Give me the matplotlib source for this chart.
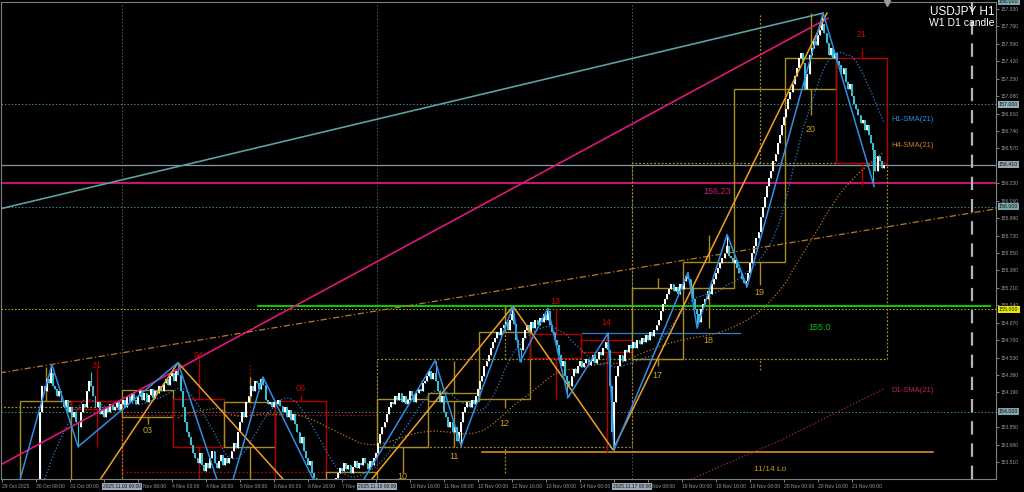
import matplotlib
matplotlib.use("Agg")
import matplotlib.pyplot as plt
import numpy as np
import pandas as pd
from matplotlib.patches import Rectangle

plt.rcParams["font.family"] = ["Liberation Sans", "DejaVu Sans"]

# ---- H1 closes, bar 0 = 29 Oct 16:00 ----
closes = [
    153.15, 153.12, 153.18, 153.10, 153.14, 153.20, 153.16, 153.22, 153.18, 153.25,
    153.21, 153.27, 153.24, 153.30, 153.26, 153.28, 153.22, 153.30,
    154.00, 154.25, 154.20, 154.32, 154.28, 154.38, 154.25,
    154.22, 154.15, 154.20, 154.10, 154.05, 154.12, 154.00, 154.05, 153.95, 154.00, 153.90, 153.85,
    154.00, 154.08, 154.05, 154.20, 154.30, 154.25,
    154.15, 154.05, 154.10, 153.98, 154.02, 153.95, 154.05, 154.00, 154.08, 154.02,
    154.05, 154.10, 154.02, 154.08, 154.12, 154.05, 154.15, 154.10, 154.18, 154.12,
    154.08, 154.15, 154.20, 154.12, 154.18, 154.10, 154.16, 154.22, 154.14, 154.20,
    154.18, 154.25, 154.20, 154.28, 154.32, 154.26, 154.35, 154.38,
    154.30, 154.40, 154.36,
    154.20, 154.05, 153.90, 153.80, 153.75, 153.68, 153.60,
    153.55, 153.50, 153.60, 153.48, 153.42, 153.50, 153.45, 153.55, 153.62, 153.50,
    153.45, 153.52, 153.58, 153.48, 153.55,
    153.50, 153.55, 153.62, 153.70, 153.65, 153.80, 153.90, 154.00, 153.95, 154.10,
    154.15, 154.25, 154.20, 154.30, 154.28, 154.22, 154.32, 154.26,
    154.12, 154.08, 154.10, 154.05, 154.10, 154.08, 154.12, 154.06,
    154.00, 154.05, 153.95, 154.02, 153.92, 153.98, 153.88,
    153.80, 153.70, 153.75, 153.62, 153.55, 153.48, 153.52, 153.40,
    153.35, 153.30, 153.32, 153.25, 153.28, 153.22, 153.30, 153.26, 153.32, 153.28, 153.35, 153.40,
    153.45, 153.42, 153.50, 153.44, 153.48, 153.40, 153.46, 153.52, 153.45, 153.50,
    153.48, 153.55, 153.50, 153.44, 153.52, 153.48, 153.55,
    153.60, 153.70, 153.78, 153.85, 153.90, 153.98, 154.05, 154.10, 154.08, 154.15, 154.12,
    154.18, 154.10, 154.15, 154.08, 154.12, 154.20, 154.15, 154.10, 154.18, 154.22, 154.20, 154.28,
    154.30, 154.35, 154.40, 154.32, 154.38, 154.30,
    154.20, 154.10, 154.15, 154.00, 153.95, 153.85, 153.90, 153.80, 153.85, 153.72,
    153.80, 153.90, 154.00, 154.05, 154.10, 154.05, 154.12, 154.08,
    154.15, 154.22, 154.30, 154.35, 154.45, 154.50, 154.55, 154.62, 154.68, 154.72, 154.78, 154.75, 154.82,
    154.85, 154.88, 154.80, 154.90, 154.95, 154.86,
    154.70, 154.62, 154.60, 154.72,
    154.80, 154.85, 154.78, 154.88, 154.82, 154.90, 154.85, 154.92, 154.88, 154.95, 154.90, 154.98,
    154.85, 154.78, 154.70, 154.65, 154.55, 154.45, 154.50, 154.35, 154.30, 154.25,
    154.35, 154.42, 154.38, 154.45, 154.50, 154.44, 154.48, 154.52, 154.46, 154.50,
    154.55, 154.48, 154.52, 154.58, 154.55,
    154.62, 154.68, 154.60, 154.25, 153.80, 154.10, 154.35,
    154.45, 154.55, 154.50, 154.60, 154.58, 154.65, 154.62, 154.68,
    154.62, 154.70, 154.66, 154.72, 154.68, 154.75, 154.70, 154.78, 154.74, 154.80,
    154.85, 154.90, 154.98, 155.05, 155.10, 155.15, 155.20, 155.25,
    155.18, 155.22, 155.15, 155.25, 155.20,
    155.28, 155.33, 155.30, 155.22,
    155.10, 155.00, 154.95, 154.88, 155.00,
    155.05, 155.10, 155.18, 155.15, 155.25, 155.30, 155.35, 155.40,
    155.45, 155.50, 155.55, 155.62, 155.52,
    155.50, 155.45, 155.48, 155.40, 155.35, 155.30, 155.26,
    155.28, 155.35, 155.45,
    155.55, 155.62, 155.70, 155.75,
    155.90, 156.00, 156.10, 156.20,
    156.28, 156.35, 156.45, 156.52, 156.62,
    156.70, 156.80, 156.88, 156.95, 157.05,
    157.12, 157.20, 157.28, 157.35, 157.45,
    157.50, 157.40, 157.15, 157.30, 157.48,
    157.55, 157.62, 157.58, 157.68, 157.72, 157.78,
    157.70, 157.60, 157.48, 157.55, 157.45, 157.50, 157.42,
    157.38, 157.30, 157.35, 157.22, 157.15, 157.20, 157.08, 157.00,
    156.95, 156.90, 156.82, 156.85, 156.75, 156.80, 156.70,
    156.62, 156.55, 156.35, 156.50, 156.45, 156.38, 156.41,
]
# swing wicks that stick out of the bodies
wick_bars = [23, 36, 42, 83, 123, 204, 216, 240, 244, 257, 266, 285, 288, 323, 327, 341, 350, 386, 410]
wick_prices = [154.46, 153.66, 154.39, 154.48, 154.34, 154.50, 153.67, 155.03, 154.49, 155.01,
               154.14, 154.77, 153.63, 155.36, 154.82, 155.73, 155.22, 157.89, 156.20]

# time axis (labels partly hidden under the separator tags keep only their visible part)
time_ticks = [0, 16, 32, 48, 64, 80, 96, 112, 128, 144, 160, 176, 192, 208, 224, 240, 256,
              272, 288, 304, 320, 336, 352, 368, 384, 400]
time_labels = ["29 Oct 2025", "30 Oct 08:00", "31 Oct 00:00", "", "",
               "4 Nov 00:00", "4 Nov 16:00", "5 Nov 08:00", "6 Nov 00:00", "6 Nov 16:00",
               "7 Nov", "", "10 Nov 16:00", "11 Nov 08:00", "12 Nov 00:00",
               "12 Nov 16:00", "13 Nov 08:00", "14 Nov 00:00", "", "",
               "18 Nov 00:00", "18 Nov 16:00", "19 Nov 08:00", "20 Nov 00:00", "20 Nov 16:00",
               "21 Nov 08:00"]
tail_x = [66.5, 306.0]
tail_labels = ["Nov 08:00", "Nov 08:00"]
price_ticks = [157.93, 157.76, 157.59, 157.42, 157.25, 157.08, 156.91, 156.74, 156.57, 156.23,
               156.06, 155.89, 155.72, 155.55, 155.38, 155.21, 155.04, 154.87, 154.70, 154.53,
               154.36, 154.19, 153.85, 153.68, 153.51]

# ---- W1 D1 candle indicator ----
day_start = [8.5, 32.5, 56.5, 80.5, 104.5, 128.5, 152.5, 176.5, 200.5, 224.5, 248.5, 272.5,
             296.5, 320.5, 344.5, 368.5, 392.5]
day_open = [153.00, 154.11, 153.95, 154.13, 153.66, 154.11, 153.20, 153.66, 154.11, 154.13,
            154.76, 154.70, 154.52, 155.21, 155.46, 157.15, 157.45]
day_close = [154.11, 154.03, 154.21, 153.66, 154.10, 153.20, 153.41, 154.13, 154.18, 154.78,
             154.53, 154.58, 155.21, 155.46, 157.15, 157.45, 156.43]
day_high = [154.44, 154.43, 154.21, 154.52, 154.34, 154.16, 153.45, 154.13, 154.50, 155.03,
            155.01, 154.77, 155.31, 155.73, 157.15, 157.89, 157.55]
day_low = [152.90, 153.66, 153.88, 153.20, 153.20, 153.10, 153.10, 153.40, 153.66, 154.04,
           154.13, 153.61, 154.45, 154.82, 155.24, 156.90, 156.20]
day_label = ["", "31", "03", "04", "", "06", "", "10", "11", "12", "13", "14", "17", "18",
             "19", "20", "21"]
day_label_y = [0, 154.45, 153.82, 154.55, 0, 154.23, 0, 153.37, 153.56, 153.89, 155.08,
               154.87, 154.35, 154.70, 155.16, 156.75, 157.68]

week_start = [-63.5, 56.5, 176.5, 296.5]
week_open = [152.50, 153.97, 153.66, 154.52]
week_close = [154.05, 153.41, 154.52, 156.43]
week_high = [154.46, 154.49, 155.03, 157.89]
week_low = [152.00, 153.00, 153.40, 154.41]

# ---- zigzags / trendlines (bar index, price) ----
zz_blue_x = [3.8, 23.5, 35.8, 82.8, 105.2, 122.8, 157.2, 203.8, 216.0, 240.5, 243.8, 256.9,
             266.4, 285.2, 288.0, 322.8, 327.1, 341.2, 350.6, 386.4, 410.4]
zz_blue_y = [152.99, 154.46, 153.66, 154.48, 153.09, 154.34, 152.89, 154.50, 153.67, 155.03,
             154.49, 155.01, 154.14, 154.77, 153.63, 155.36, 154.82, 155.73, 155.22, 157.89, 156.20]
zz_orange_x = [27.3, 82.8, 154.2, 240.5, 287.5, 388.2]
zz_orange_y = [152.75, 154.48, 152.84, 155.03, 153.63, 157.89]
teal_line_x = [-0.94, 386.4]
teal_line_y = [155.98, 157.89]
pink_line_x = [-0.94, 388.7]
pink_line_y = [153.48, 157.84]
dashdot_x = [-0.94, 467.8]
dashdot_y = [154.38, 155.98]
d1_sma_x = [322.8, 366.1, 415.5]
d1_sma_y = [153.33, 153.72, 154.23]

pink_level = 156.23
bid = 156.41
green_level = 155.03
green_x = [120.5, 465.0]
lo_1114 = 153.61
lo_1114_x = [225.9, 438.1]
blue_level = 154.77
blue_level_x = [272.9, 347.3]
round_levels = [157.0, 156.0, 154.0]
week_sep = [56.5, 176.5, 296.5]
sep_labels = ["2025.11.03 00:00", "2025.11.10 00:00", "2025.11.17 00:00"]
shift_bar = 456.5

OLIVE, OLIVE_TXT, RED = "#a88c1c", "#c8a020", "#b00000"

fig = plt.figure(figsize=(10.24, 4.92), dpi=100, facecolor="black")
ax = fig.add_axes([1 / 1024, 13 / 492, 995 / 1024, 477 / 492])
ax.set_facecolor("black")
ax.set_xlim(-0.47, 467.76)
ax.set_ylim(153.345, 157.998)

# grid-ish levels
for x in week_sep:
    ax.axvline(x, color="#5a5a5a", ls=(0, (1.5, 2)), lw=0.7, zorder=1)
for lv in round_levels:
    ax.axhline(lv, color="#3f8a92", ls=(0, (1.5, 2)), lw=0.7, zorder=1)
ax.axhline(155.0, color="#c8b400", ls=(0, (1.5, 2)), lw=0.7, zorder=1)
ax.axhline(bid, color="#8c96a0", lw=0.9, zorder=2)
ax.axhline(pink_level, color="#e0167a", lw=1.3, zorder=2)
ax.plot(green_x, [green_level] * 2, color="#00e000", lw=1.3, zorder=2)
ax.plot(lo_1114_x, [lo_1114] * 2, color="#d8901c", lw=1.2, zorder=2)
ax.plot(blue_level_x, [blue_level] * 2, color="#2f7fd8", lw=0.9, zorder=2)

# week boxes (dotted) and day boxes
for s, o, c, h, l in zip(week_start, week_open, week_close, week_high, week_low):
    col = OLIVE if c >= o else RED
    ax.add_patch(Rectangle((s, min(o, c)), 120, abs(c - o), fill=False, ec=col,
                           ls=(0, (1.5, 1.5)), lw=0.9, zorder=2))
    ax.vlines([s + 60, s + 60], [max(o, c), l], [h, min(o, c)], color=col,
              ls=(0, (1.5, 1.5)), lw=0.9, zorder=2)
for s, o, c, h, l, lab, ly in zip(day_start, day_open, day_close, day_high, day_low,
                                  day_label, day_label_y):
    col = OLIVE if c >= o else RED
    ax.add_patch(Rectangle((s, min(o, c)), 24, abs(c - o), fill=False, ec=col, lw=1.0, zorder=2))
    ax.vlines([s + 12, s + 12], [max(o, c), l], [h, min(o, c)], color=col, lw=1.0, zorder=2)
    if lab:
        ax.text(s + 12, ly, lab, color=OLIVE_TXT if c >= o else "#d00000", fontsize=6.5,
                ha="center", va="center", zorder=6)

# moving averages
cs = pd.Series(closes)
idx = np.arange(len(closes))
ax.plot(idx, cs.rolling(21).mean(), color="#2a7fd0", ls=(0, (1, 1.6)), lw=0.9, zorder=2)
ax.plot(idx, cs.rolling(84).mean(), color="#b8741a", ls=(0, (1, 1.6)), lw=0.9, zorder=2)
ax.plot(d1_sma_x, d1_sma_y, color="#b0205e", ls=(0, (1, 1.6)), lw=0.9, zorder=2)

# candles
c = np.array(closes)
o = np.r_[c[0], c[:-1]]
top = np.maximum(o, c)
bot = np.minimum(o, c)
hi, lo = top.copy(), bot.copy()
for b, p in zip(wick_bars, wick_prices):
    hi[b] = max(hi[b], p)
    lo[b] = min(lo[b], p)
cols = np.where(c >= o, "#ffffff", "#38bfd2")
ax.vlines(idx, lo, hi, colors=cols, lw=0.8, zorder=3)
ax.bar(idx, np.maximum(top - bot, 0.012), bottom=bot, width=0.85, color=cols, lw=0, zorder=3)

# trendlines and zigzags
ax.plot(teal_line_x, teal_line_y, color="#5f9ea0", lw=1.2, zorder=4)
ax.plot(pink_line_x, pink_line_y, color="#e0167a", lw=1.2, zorder=4)
ax.plot(dashdot_x, dashdot_y, color="#c07820", ls=(0, (5, 2, 1, 2)), lw=0.9, zorder=4)
ax.plot(zz_orange_x, zz_orange_y, color="#f0a020", lw=1.1, zorder=4)
ax.plot(zz_blue_x, zz_blue_y, color="#2f8fe8", lw=1.1, zorder=4)
ax.axvline(shift_bar, color="#b4b4b4", ls=(0, (6, 4)), lw=1.6, zorder=4)

# object labels
ax.text(329.9, 156.145, "156.23", color="#d0187a", fontsize=6.5, va="center", zorder=6)
ax.text(379.3, 154.82, "155.0", color="#00c800", fontsize=6.5, va="center", zorder=6)
ax.text(353.9, 153.44, "11/14 Lo", color="#d8901c", fontsize=6, va="center", zorder=6)
ax.text(418.4, 156.85, "H1-SMA(21)", color="#2f8fe8", fontsize=5.5, va="center", zorder=6)
ax.text(418.4, 156.60, "H4-SMA(21)", color="#d08020", fontsize=5.5, va="center", zorder=6)
ax.text(418.4, 154.21, "D1-SMA(21)", color="#c02060", fontsize=5.5, va="center", zorder=6)
ax.text(0.998, 0.978, "USDJPY H1", color="white", fontsize=8.5, ha="right", va="center",
        transform=ax.transAxes, zorder=6)
ax.text(0.998, 0.955, "W1 D1 candle", color="white", fontsize=7.5, ha="right", va="center",
        transform=ax.transAxes, zorder=6)

# axes, ticks
for sp in ax.spines.values():
    sp.set_color("#808080")
    sp.set_linewidth(0.8)
ax.yaxis.tick_right()
ax.set_yticks(price_ticks)
ax.set_yticklabels([f"{p:.3f}" for p in price_ticks])
ax.set_xticks(time_ticks)
ax.set_xticklabels(time_labels, ha="left")
ax.tick_params(axis="both", colors="#9a9a9a", labelsize=3.6, length=2, pad=1.5, width=0.6)

xtr = ax.get_xaxis_transform()
for x, lab in zip(tail_x, tail_labels):
    ax.text(x, -0.016, lab, transform=xtr, fontsize=3.6, color="#9a9a9a", va="center",
            ha="left", clip_on=False)

ytr = ax.get_yaxis_transform()
price_boxes = [(158.0, "#7fa6ae"), (157.0, "#8fb0b8"), (bid, "#9aa6b2"), (156.0, "#7fa6ae"),
               (155.0, "#e6e600"), (154.0, "#7fa6ae")]
for p, fc in price_boxes:
    ax.text(1.003, p, f"{p:.3f}", transform=ytr, fontsize=3.8, color="#101010", va="center",
            ha="left", clip_on=False, zorder=7,
            bbox=dict(boxstyle="square,pad=0.2", fc=fc, ec="none"))
for x, lab in zip(week_sep, sep_labels):
    ax.text(x, -0.016, lab, transform=xtr, fontsize=3.5, color="#101010", va="center",
            ha="center", clip_on=False, zorder=7,
            bbox=dict(boxstyle="square,pad=0.15", fc="#9aa8b8", ec="none"))
ax.plot([416.5], [157.985], marker="v", color="#9a9a9a", ms=4, clip_on=False, zorder=7)

fig.savefig("out.png", dpi=100, facecolor="black")
